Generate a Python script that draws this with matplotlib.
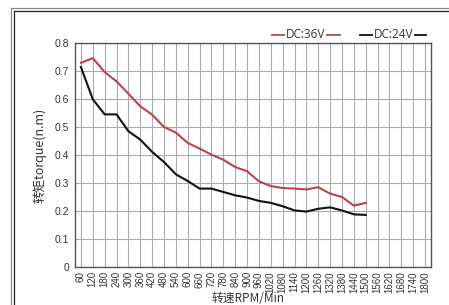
import matplotlib.pyplot as plt
from matplotlib.lines import Line2D

plt.rcParams["font.family"] = ["Liberation Sans", "DejaVu Sans"]

rpm = list(range(60, 1801, 60))
torque_36v = [0.729, 0.746, 0.696, 0.663, 0.619, 0.574, 0.544, 0.500, 0.480, 0.443,
              0.423, 0.401, 0.383, 0.357, 0.342, 0.306, 0.289, 0.282, 0.280, 0.277,
              0.285, 0.262, 0.250, 0.219, 0.229]
torque_24v = [0.714, 0.599, 0.545, 0.545, 0.485, 0.455, 0.411, 0.375, 0.331, 0.307,
              0.280, 0.280, 0.268, 0.256, 0.248, 0.236, 0.229, 0.217, 0.202, 0.198,
              0.208, 0.213, 0.202, 0.188, 0.186]
y_ticks = [0, 0.1, 0.2, 0.3, 0.4, 0.5, 0.6, 0.7, 0.8]
y_labels = ["0", "0.1", "0.2", "0.3", "0.4", "0.5", "0.6", "0.7", "0.8"]

W, H = 449, 305
fig = plt.figure(figsize=(W / 100, H / 100), dpi=100)
ax = fig.add_axes([75 / W, (H - 267) / H, (431 - 75) / W, (267 - 43) / H])

red = "#b8444a"
black = "#111111"

pos = list(range(len(rpm)))
ax.plot(pos[:len(torque_36v)], torque_36v, color=red, lw=1.5, zorder=3)
ax.plot(pos[:len(torque_24v)], torque_24v, color=black, lw=1.5, zorder=3)

ax.set_xlim(-0.5, len(rpm) - 0.5)
ax.set_ylim(0, 0.8)
ax.set_xticks(pos)
ax.set_xticklabels([str(r) for r in rpm], rotation=90, fontsize=7, color="#333333")
ax.set_yticks(y_ticks)
ax.set_yticklabels(y_labels, fontsize=7.5, color="#333333")
ax.tick_params(length=0, pad=4)
ax.tick_params(axis="x", pad=3)
ax.grid(True, color="#ababab", lw=0.8)
ax.set_axisbelow(True)
for s in ax.spines.values():
    s.set_color("#555555")
    s.set_linewidth(1.0)

cjk = ["Noto Sans CJK SC", "DejaVu Sans"]
ax.set_xlabel("转速RPM/Min", family=cjk, fontsize=8.5, color="#333333", labelpad=0)
ax.xaxis.set_label_coords(0.486, -0.141)
ax.xaxis.label.set_va("center")
ax.set_ylabel("转矩torque(n.m)", family=cjk, fontsize=9, color="#333333")
ax.yaxis.set_label_coords(-0.098, 0.5)
ax.yaxis.label.set_va("center")

# legend with line segments on both sides of the text
def legend_entry(x0, x1, x2, x3, y, text, color):
    for a, b in [(x0, x1), (x2, x3)]:
        fig.add_artist(Line2D([a / W, b / W], [1 - y / H, 1 - y / H], color=color, lw=1.3))
    fig.text((x1 + x2) / 2 / W, 1 - y / H, text, ha="center", va="center",
             fontsize=8.5, color="#333333", family=["Open Sans", "DejaVu Sans"])

legend_entry(272, 284, 327, 340, 34.5, "DC:36V", red)
legend_entry(360, 372, 415, 426, 34.5, "DC:24V", black)

# image frame
fig.add_artist(Line2D([10.5 / W, 10.5 / W], [0, 1 - 7.5 / H], color="#888888", lw=0.9))
fig.add_artist(Line2D([10.5 / W, 1], [1 - 7.5 / H, 1 - 7.5 / H], color="#888888", lw=0.9))
fig.add_artist(Line2D([14 / W, 14 / W], [0, 1 - 10.5 / H], color="#222222", lw=0.9))
fig.add_artist(Line2D([14 / W, 1], [1 - 10.5 / H, 1 - 10.5 / H], color="#222222", lw=0.9))

fig.savefig("out.png", dpi=100)
